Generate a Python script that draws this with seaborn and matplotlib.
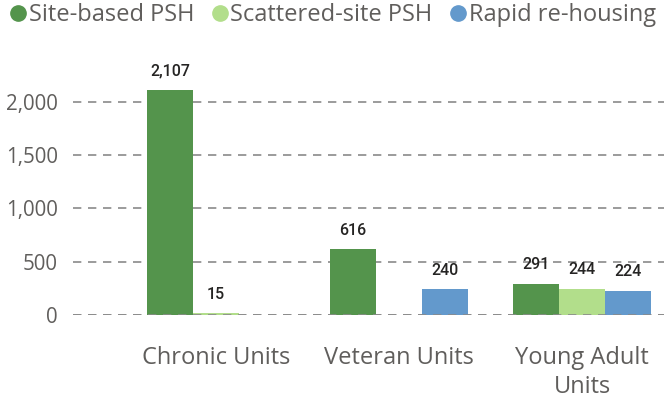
import pandas as pd
import numpy as np
import seaborn as sns
from matplotlib import pyplot as plt
from matplotlib.lines import Line2D

categories = ['Chronic Units', 'Veteran Units', 'Young Adult\nUnits']
series = ['Site-based PSH', 'Scattered-site PSH', 'Rapid re-housing']
site_based = [2107, 616, 291]
scattered = [15, np.nan, 244]
rapid = [np.nan, 240, 224]
colors = ['#54944C', '#B2DE8B', '#6399CC']

rows = []
for name, vals in zip(series, [site_based, scattered, rapid]):
    for cat, v in zip(categories, vals):
        if not np.isnan(v):
            rows.append({'category': cat, 'program': name, 'units': v})
df = pd.DataFrame(rows)

sns.set_style('white')
plt.rcParams['font.family'] = ['Open Sans', 'DejaVu Sans']
plt.rcParams['lines.scale_dashes'] = False
text_gray = '#605E5C'

fig = plt.figure(figsize=(6.64, 4.01), dpi=100)
ax = fig.add_axes([0.110, 0.2145, 0.890, 0.6645])

sns.barplot(data=df, x='category', y='units', hue='program', order=categories,
            hue_order=series, palette=colors, width=0.754, linewidth=0,
            saturation=1, legend=False, ax=ax, zorder=2)

for cont in ax.containers:
    ax.bar_label(cont, labels=['{:,.0f}'.format(b.get_height()) for b in cont],
                 padding=8.5, fontsize=11.5, color='#252423', family='Roboto',
                 fontweight='medium')

ax.set_ylim(0, 2500)
ax.set_xlim(-0.781, 2.448)
ax.set_yticks([0, 500, 1000, 1500, 2000])
ax.set_yticklabels(['0', '500', '1,000', '1,500', '2,000'])
ax.yaxis.grid(True, color='#8A8A8A', linewidth=1.2, linestyle=(0, (6, 4.8)), zorder=0)
ax.set_axisbelow(True)
ax.axhline(0, color='#8A8A8A', linewidth=1.2, linestyle=(0, (6, 4.8)), zorder=3)
for s in ax.spines.values():
    s.set_visible(False)
ax.tick_params(axis='y', length=0, pad=11, labelsize=14.8, labelcolor=text_gray)
ax.tick_params(axis='x', length=0, pad=22, labelsize=17, labelcolor=text_gray)
for lbl in ax.get_xticklabels():
    lbl.set_linespacing(1.3)
ax.set_xlabel('')
ax.set_ylabel('')

handles = [Line2D([], [], marker='o', linestyle='', markersize=11,
                  markerfacecolor=c, markeredgecolor=c) for c in colors]
fig.legend(handles, series, loc='upper left', bbox_to_anchor=(9 / 664, 1 - 2 / 401),
           ncol=3, frameon=False, fontsize=17, labelcolor=text_gray,
           handletextpad=0.08, columnspacing=0.75, handlelength=0.7,
           borderpad=0.05, borderaxespad=0)

fig.savefig('out.png', dpi=100)
